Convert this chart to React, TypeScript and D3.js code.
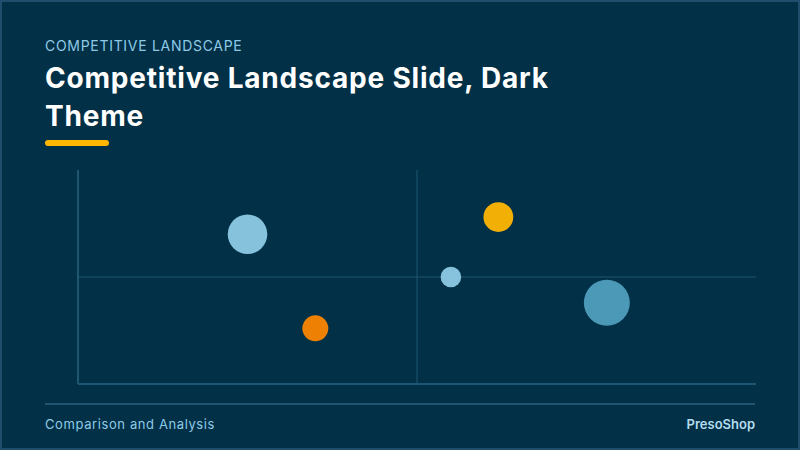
import React, { useEffect } from "react";
import * as d3 from "d3";

// competitor bubbles (x = position score, y = strength score, size = market share)
const competitors = ["Competitor A", "Competitor B", "Competitor C", "Competitor D", "Competitor E"];
const xValues = [25, 35, 55, 62, 78];
const yValues = [70, 26, 50, 78, 38];
const sizeValues = [37, 16, 10, 21, 50];

const bubbleColors = ["#8ecae6", "#fb8500", "#8ecae6", "#ffb703", "#4f9fbd"];

const W = 800;
const H = 450;
const FONT = "Inter, 'Open Sans', sans-serif";

export default function App() {
  useEffect(() => {
    document.body.style.margin = "0";
  }, []);

  const margin = { top: 170, right: 44, bottom: 66, left: 78 };
  const x = d3.scaleLinear().domain([0, 100]).range([margin.left, W - margin.right]);
  const y = d3.scaleLinear().domain([0, 100]).range([H - margin.bottom, margin.top]);
  const r = d3.scaleSqrt().domain([0, d3.max(sizeValues) || 50]).range([0, 23]);

  const gridColor = "#1d5673";

  return (
    <svg width={W} height={H} style={{ display: "block" }}>
      <rect x={1} y={1} width={W - 2} height={H - 2} fill="#023047" stroke="#1e4e6b" strokeWidth={2} />

      {/* header */}
      <text x={45} y={51} fill="#8ecae6" fontFamily={FONT} fontSize={14} letterSpacing={0.7}>
        COMPETITIVE LANDSCAPE
      </text>
      <text x={45} y={88} fill="#ffffff" fontFamily={FONT} fontSize={28} fontWeight={700} letterSpacing={0.8}>
        Competitive Landscape Slide, Dark
      </text>
      <text x={45} y={126} fill="#ffffff" fontFamily={FONT} fontSize={28} fontWeight={700} letterSpacing={0.8}>
        Theme
      </text>
      <rect x={45} y={140} width={64} height={6} rx={3} fill="#ffb703" />

      {/* quadrant lines */}
      <line x1={x(50)} x2={x(50)} y1={y(0)} y2={y(100)} stroke={gridColor} strokeWidth={1} />
      <line x1={x(0)} x2={x(100)} y1={y(50)} y2={y(50)} stroke={gridColor} strokeWidth={1} />
      <line x1={x(0)} x2={x(0)} y1={y(0)} y2={y(100)} stroke={gridColor} strokeWidth={2} />
      <line x1={x(0)} x2={x(100)} y1={y(0)} y2={y(0)} stroke={gridColor} strokeWidth={2} />

      {/* bubbles */}
      {competitors.map((name, i) => (
        <circle
          key={name}
          cx={x(xValues[i])}
          cy={y(yValues[i])}
          r={r(sizeValues[i])}
          fill={bubbleColors[i]}
          fillOpacity={0.95}
        >
          <title>{name}</title>
        </circle>
      ))}

      {/* footer */}
      <line x1={45} x2={755} y1={404} y2={404} stroke="#1e5470" strokeWidth={2} />
      <text x={45} y={429} fill="#8ecae6" fontFamily={FONT} fontSize={13} letterSpacing={0.6}>
        Comparison and Analysis
      </text>
      <text x={755} y={429} fill="#b4dcee" fontFamily={FONT} fontSize={13} fontWeight={600} textAnchor="end">
        PresoShop
      </text>
    </svg>
  );
}
